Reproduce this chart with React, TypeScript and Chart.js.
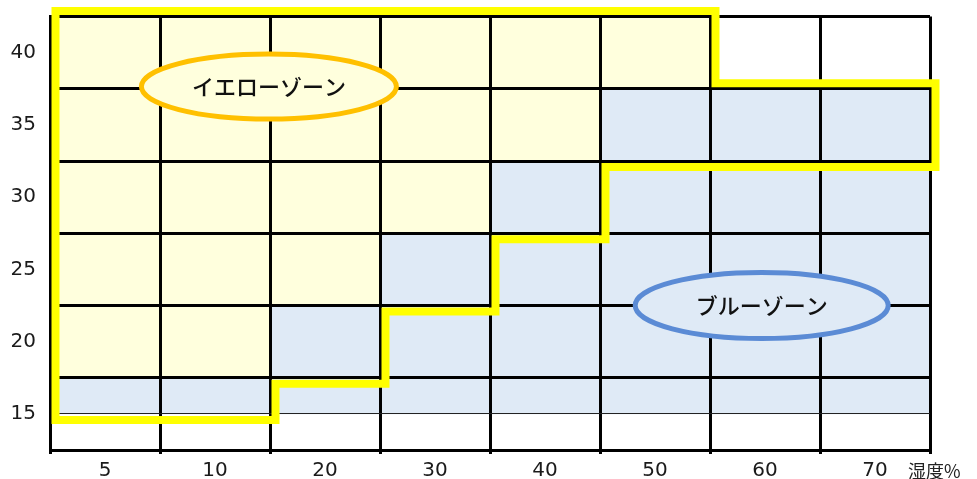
import React, { useEffect, useRef } from "react";
import { Chart, registerables } from "chart.js";

Chart.register(...registerables);

// ---- data ----
const humidityLabels = ["5", "10", "20", "30", "40", "50", "60", "70"];
const tempTicks = [15, 20, 25, 30, 35, 40];
// yellow zone cells: from this temperature up to the top of the grid (null = none)
const yellowFrom = [17.5, 17.5, 22.5, 27.5, 32.5, 37.5, null, null];
const gridTop = 42.5;
// blue zone cells: from 15 up to this temperature
const blueFrom = 15;
const blueTo = [17.5, 17.5, 22.5, 27.5, 32.5, 37.5, 37.5, 37.5];
// yellow outline: lower / upper temperature of the outlined zone per column
const outlineLower = [15, 15, 17.5, 22.5, 27.5, 32.5, 32.5, 32.5];
const outlineUpper = [42.5, 42.5, 42.5, 42.5, 42.5, 42.5, 37.5, 37.5];
const zoneNames = ["イエローゾーン", "ブルーゾーン"];
const axisUnit = "湿度%";

const YELLOW_CELL = "#FFFFDD";
const BLUE_CELL = "#DFEAF6";
const JP_FONT = '"Noto Sans CJK JP", "Noto Sans", sans-serif';
const NUM_FONT = '"DejaVu Sans", Verdana, sans-serif';

const overlayPlugin = {
  id: "overlay",
  afterDraw(chart: any) {
    const ctx = chart.ctx;
    const xs = chart.scales.x;
    const ys = chart.scales.y;
    const area = chart.chartArea;
    const n = humidityLabels.length;

    // yellow outline
    const dx = 5.5;
    const dyUp = -5.5;
    const dyDown = 6;
    const xl = (i: number) => xs.getPixelForValue(i - 0.5) + dx;
    const xr = (i: number) => xs.getPixelForValue(i + 0.5) + dx;
    const pts: number[][] = [];
    for (let i = 0; i < n; i++) {
      const y = ys.getPixelForValue(outlineUpper[i]) + dyUp;
      pts.push([xl(i), y], [xr(i), y]);
    }
    for (let i = n - 1; i >= 0; i--) {
      const y = ys.getPixelForValue(outlineLower[i]) + dyDown;
      pts.push([xr(i), y], [xl(i), y]);
    }
    ctx.save();
    ctx.beginPath();
    pts.forEach((p, k) => (k === 0 ? ctx.moveTo(p[0], p[1]) : ctx.lineTo(p[0], p[1])));
    ctx.closePath();
    ctx.strokeStyle = "#FFFF00";
    ctx.lineWidth = 8;
    ctx.lineJoin = "miter";
    ctx.stroke();
    ctx.restore();

    // zone ellipses
    const ellipses = [
      { name: zoneNames[0], cx: 1.49, cy: 37.65, rx: 127.5, ry: 32.5, fill: YELLOW_CELL, stroke: "#FFC000" },
      { name: zoneNames[1], cx: 5.97, cy: 22.5, rx: 126.5, ry: 33, fill: BLUE_CELL, stroke: "#5B8BD5" },
    ];
    ellipses.forEach((e) => {
      const cx = xs.getPixelForValue(e.cx);
      const cy = ys.getPixelForValue(e.cy);
      ctx.save();
      ctx.beginPath();
      ctx.ellipse(cx, cy, e.rx, e.ry, 0, 0, Math.PI * 2);
      ctx.fillStyle = e.fill;
      ctx.fill();
      ctx.lineWidth = 5;
      ctx.strokeStyle = e.stroke;
      ctx.stroke();
      ctx.fillStyle = "#111";
      ctx.font = `500 22px ${JP_FONT}`;
      ctx.textAlign = "center";
      ctx.textBaseline = "middle";
      ctx.fillText(e.name, cx, cy);
      ctx.restore();
    });

    // axis unit
    ctx.save();
    ctx.fillStyle = "#222";
    ctx.font = `18px ${JP_FONT}`;
    ctx.textAlign = "left";
    ctx.textBaseline = "middle";
    ctx.fillText(axisUnit, area.right - 22, 471);
    ctx.restore();
  },
};

export default function App() {
  const ref = useRef<HTMLCanvasElement | null>(null);

  useEffect(() => {
    if (!ref.current) return;
    const chart = new Chart(ref.current, {
      type: "bar",
      data: {
        labels: humidityLabels,
        datasets: [
          {
            label: "yellow",
            data: yellowFrom.map((v) => (v === null ? null : [v, gridTop])) as any,
            backgroundColor: YELLOW_CELL,
            borderWidth: 0,
            barPercentage: 1,
            categoryPercentage: 1,
            grouped: false,
          } as any,
          {
            label: "blue",
            data: blueTo.map((v) => [blueFrom, v]) as any,
            backgroundColor: BLUE_CELL,
            borderWidth: 0,
            barPercentage: 1,
            categoryPercentage: 1,
            grouped: false,
          } as any,
        ],
      },
      options: {
        responsive: false,
        animation: false,
        layout: { padding: { top: 16.5, right: 47, left: 0, bottom: 0 } },
        plugins: { legend: { display: false }, tooltip: { enabled: false } },
        scales: {
          x: {
            type: "category",
            offset: true,
            grid: {
              offset: true,
              color: "#000",
              lineWidth: 3,
              tickLength: 4,
              drawTicks: true,
              z: 1,
            } as any,
            border: { color: "#000", width: 3, z: 2 } as any,
            ticks: {
              color: "#1a1a1a",
              font: { family: NUM_FONT, size: 20 },
              padding: 5,
              maxRotation: 0,
            },
            afterFit: (s: any) => {
              s.height = 29;
              s.paddingLeft = 0;
              s.paddingRight = 0;
            },
          },
          y: {
            type: "linear",
            min: 12.5,
            max: gridTop,
            ticks: {
              stepSize: 2.5,
              color: "#1a1a1a",
              font: { family: NUM_FONT, size: 20 },
              padding: 14,
              callback: (v: any) => (tempTicks.includes(Number(v)) ? String(v) : ""),
            },
            grid: {
              drawTicks: false,
              z: 1,
              color: (c: any) => {
                const v = c.tick ? c.tick.value : 0;
                if (Math.abs(((v - 2.5) % 5 + 5) % 5) < 1e-6) return "#000";
                if (v === blueFrom) return "#222";
                return "rgba(0,0,0,0)";
              },
              lineWidth: (c: any) => {
                const v = c.tick ? c.tick.value : 0;
                if (Math.abs(((v - 2.5) % 5 + 5) % 5) < 1e-6) return 3;
                return 1;
              },
            } as any,
            border: { color: "#000", width: 3, z: 2 } as any,
            afterFit: (s: any) => {
              s.width = 50;
              s.paddingTop = 0;
              s.paddingBottom = 0;
            },
          },
        },
      },
      plugins: [overlayPlugin],
    });
    return () => chart.destroy();
  }, []);

  return (
    <div style={{ position: "absolute", left: 0, top: 0, width: 977, height: 479, background: "#fff" }}>
      <canvas ref={ref} width={977} height={479} style={{ display: "block" }} />
    </div>
  );
}
